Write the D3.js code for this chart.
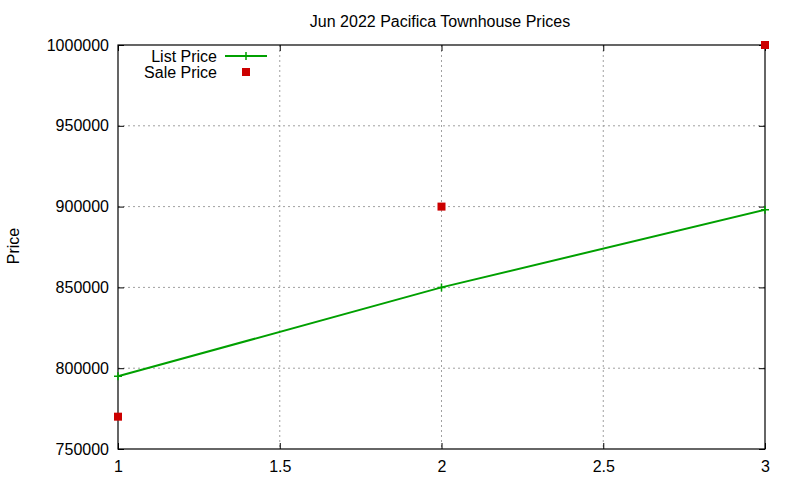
<!DOCTYPE html>
<html>
<head>
<meta charset="utf-8">
<script src="https://cdn.jsdelivr.net/npm/d3@7"></script>
<style>
  body { margin: 0; background: #fff; }
  svg { font-family: "Liberation Sans", Arial, sans-serif; }
  .grid line { stroke: #a0a0a0; stroke-dasharray: 2,3; }
</style>
</head>
<body>
<svg id="chart" width="800" height="480"></svg>
<script>
// chart data
const title = "Jun 2022 Pacifica Townhouse Prices";
const xValues = [1, 2, 3];
const listPrice = [795000, 850000, 898000];
const salePrice = [770000, 900000, 1000000];
const xTicks = [1, 1.5, 2, 2.5, 3];
const yTicks = [750000, 800000, 850000, 900000, 950000, 1000000];

const margin = { top: 45, right: 35, bottom: 31, left: 118 };
const width = 800 - margin.left - margin.right;
const height = 480 - margin.top - margin.bottom;

const svg = d3.select("#chart");
const g = svg.append("g")
  .attr("transform", "translate(" + margin.left + "," + margin.top + ")");

const xScale = d3.scaleLinear().domain([1, 3]).range([0, width]);
const yScale = d3.scaleLinear().domain([750000, 1000000]).range([height, 0]);

// grid
const grid = g.append("g").attr("class", "grid");
grid.selectAll(".gx")
  .data(xTicks.slice(1, -1))
  .join("line")
  .attr("x1", d => xScale(d)).attr("x2", d => xScale(d))
  .attr("y1", 0).attr("y2", height);
grid.selectAll(".gy")
  .data(yTicks.slice(1, -1))
  .join("line")
  .attr("class", "gy")
  .attr("x1", 0).attr("x2", width)
  .attr("y1", d => yScale(d)).attr("y2", d => yScale(d));

// axes (gnuplot style: inward ticks, mirrored)
function styleAxis(sel) {
  sel.select(".domain").remove();
  sel.selectAll(".tick line").attr("stroke", "#000");
  sel.selectAll(".tick text").attr("fill", "#000").attr("font-size", 16)
    .attr("font-family", "Liberation Sans, Arial, sans-serif");
}

g.append("g")
  .attr("transform", "translate(0," + height + ")")
  .call(d3.axisBottom(xScale).tickValues(xTicks).tickSize(-6).tickPadding(12)
    .tickFormat(d => `${d}`))
  .call(styleAxis);
g.append("g")
  .call(d3.axisTop(xScale).tickValues(xTicks).tickSize(-6).tickFormat(""))
  .call(styleAxis);
g.append("g")
  .call(d3.axisLeft(yScale).tickValues(yTicks).tickSize(-6).tickPadding(9)
    .tickFormat(d => `${d}`))
  .call(styleAxis);
g.append("g")
  .attr("transform", "translate(" + width + ",0)")
  .call(d3.axisRight(yScale).tickValues(yTicks).tickSize(-6).tickFormat(""))
  .call(styleAxis);

g.append("rect")
  .attr("width", width).attr("height", height)
  .attr("fill", "none").attr("stroke", "#000").attr("stroke-width", 1.2);

// list price line
const listData = xValues.map((x, i) => ({ x: x, y: listPrice[i] }));
g.append("path")
  .datum(listData)
  .attr("fill", "none")
  .attr("stroke", "#00a000")
  .attr("stroke-width", 2)
  .attr("d", d3.line().x(d => xScale(d.x)).y(d => yScale(d.y)));

g.selectAll(".list-pt")
  .data(listData)
  .join("path")
  .attr("class", "list-pt")
  .attr("stroke", "#00a000")
  .attr("stroke-width", 1.5)
  .attr("d", d => {
    const cx = xScale(d.x), cy = yScale(d.y);
    return `M${cx - 4},${cy}H${cx + 4}M${cx},${cy - 4}V${cy + 4}`;
  });

// sale price points
const saleData = xValues.map((x, i) => ({ x: x, y: salePrice[i] }));
g.selectAll(".sale-pt")
  .data(saleData)
  .join("rect")
  .attr("class", "sale-pt")
  .attr("x", d => xScale(d.x) - 4)
  .attr("y", d => yScale(d.y) - 4)
  .attr("width", 8).attr("height", 8)
  .attr("fill", "#cc0000");

// legend
const legend = svg.append("g").attr("font-size", 16);
legend.append("text").attr("x", 217).attr("y", 56).attr("dy", "0.35em")
  .attr("text-anchor", "end").text("List Price");
legend.append("line").attr("x1", 225).attr("x2", 267).attr("y1", 56).attr("y2", 56)
  .attr("stroke", "#00a000").attr("stroke-width", 2);
legend.append("path").attr("d", "M242,56H250M246,52V60")
  .attr("stroke", "#00a000").attr("stroke-width", 1.5);
legend.append("text").attr("x", 217).attr("y", 72).attr("dy", "0.35em")
  .attr("text-anchor", "end").text("Sale Price");
legend.append("rect").attr("x", 242).attr("y", 68).attr("width", 8).attr("height", 8)
  .attr("fill", "#cc0000");

// title and axis label
svg.append("text")
  .attr("x", 440).attr("y", 21).attr("dy", "0.35em")
  .attr("text-anchor", "middle").attr("font-size", 16)
  .text(title);
svg.append("text")
  .attr("transform", "translate(13,246) rotate(-90)")
  .attr("dy", "0.35em")
  .attr("text-anchor", "middle").attr("font-size", 16)
  .text("Price");
</script>
</body>
</html>
